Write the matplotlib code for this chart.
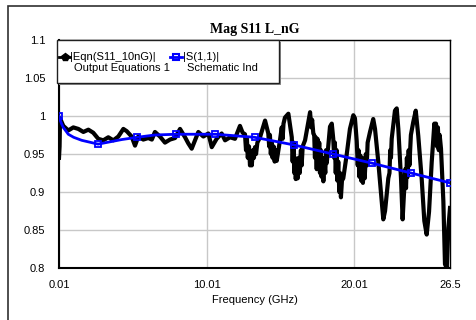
import numpy as np
import matplotlib.pyplot as plt
from matplotlib.patches import Rectangle
from matplotlib.lines import Line2D

# ====================== data ======================
freq_eqn = [0.01, 0.05, 0.08, 0.30, 0.64, 0.98, 1.32, 1.66, 2.00, 2.33,
            2.67, 3.01, 3.35, 3.69, 4.03, 4.37, 4.60, 4.93, 5.16, 5.38,
            5.72, 6.06, 6.30, 6.51, 6.85, 7.19, 7.53, 7.87, 8.21, 8.55,
            8.77, 9.00, 9.45, 9.79, 10.13, 10.36, 10.69, 11.03, 11.26, 11.60,
            11.93, 12.27, 12.45, 12.61, 12.68, 12.74, 12.80, 12.88, 12.95, 13.01,
            13.07, 13.15, 13.22, 13.29, 13.36, 13.45, 13.63, 13.97, 14.19, 14.25,
            14.30, 14.36, 14.42, 14.48, 14.55, 14.62, 14.70, 14.76, 14.98, 15.10,
            15.16, 15.22, 15.32, 15.55, 15.78, 15.84, 15.90, 15.95, 16.00, 16.05,
            16.12, 16.18, 16.25, 16.32, 16.40, 16.45, 16.52, 16.68, 17.02, 17.10,
            17.16, 17.24, 17.30, 17.35, 17.40, 17.47, 17.52, 17.58, 17.64, 17.69,
            17.75, 17.80, 17.86, 17.92, 17.98, 18.05, 18.10, 18.15, 18.37, 18.49,
            18.59, 18.65, 18.70, 18.76, 18.82, 18.87, 18.93, 19.00, 19.05, 19.11,
            19.18, 19.27, 19.50, 19.72, 19.95, 20.06, 20.18, 20.25, 20.30, 20.36,
            20.42, 20.48, 20.54, 20.60, 20.66, 20.72, 20.80, 20.86, 20.92, 21.08,
            21.30, 21.42, 21.64, 21.87, 21.98, 22.10, 22.32, 22.40, 22.45, 22.50,
            22.55, 22.77, 22.89, 23.00, 23.18, 23.29, 23.40, 23.47, 23.52, 23.58,
            23.63, 23.70, 23.75, 23.85, 24.01, 24.18, 24.35, 24.58, 24.76, 24.92,
            25.08, 25.26, 25.44, 25.50, 25.55, 25.62, 25.68, 25.74, 25.80, 25.89,
            26.05, 26.16, 26.28, 26.39, 26.50]
mag_eqn = [0.945, 0.960, 0.997, 0.987, 0.981, 0.985, 0.983, 0.979, 0.982, 0.978,
           0.970, 0.968, 0.972, 0.968, 0.973, 0.983, 0.980, 0.973, 0.961, 0.973,
           0.969, 0.971, 0.969, 0.979, 0.973, 0.965, 0.969, 0.971, 0.983, 0.972,
           0.964, 0.957, 0.979, 0.973, 0.977, 0.959, 0.970, 0.977, 0.968, 0.972,
           0.970, 0.987, 0.978, 0.976, 0.955, 0.970, 0.945, 0.960, 0.935, 0.950,
           0.935, 0.955, 0.945, 0.959, 0.950, 0.965, 0.972, 0.994, 0.977, 0.960,
           0.975, 0.950, 0.965, 0.945, 0.960, 0.940, 0.955, 0.941, 0.968, 0.985,
           0.970, 0.990, 0.998, 1.003, 0.972, 0.940, 0.965, 0.925, 0.945, 0.917,
           0.940, 0.918, 0.945, 0.925, 0.955, 0.935, 0.960, 0.968, 1.005, 0.985,
           0.995, 0.977, 0.975, 0.945, 0.972, 0.930, 0.970, 0.935, 0.965, 0.925,
           0.955, 0.920, 0.945, 0.914, 0.940, 0.925, 0.955, 0.938, 0.986, 0.990,
           0.970, 0.945, 0.965, 0.925, 0.955, 0.915, 0.940, 0.900, 0.925, 0.893,
           0.915, 0.918, 0.949, 0.983, 1.001, 0.997, 0.967, 0.935, 0.955, 0.920,
           0.948, 0.915, 0.945, 0.912, 0.940, 0.918, 0.950, 0.935, 0.965, 0.979,
           0.996, 0.983, 0.940, 0.888, 0.864, 0.875, 0.918, 0.925, 0.955, 0.945,
           0.970, 1.007, 1.010, 0.983, 0.918, 0.864, 0.905, 0.930, 0.905, 0.945,
           0.920, 0.955, 0.935, 0.975, 0.992, 1.007, 0.974, 0.918, 0.862, 0.844,
           0.874, 0.939, 0.990, 0.965, 0.990, 0.960, 0.985, 0.955, 0.975, 0.957,
           0.888, 0.805, 0.800, 0.853, 0.879]

# |S(1,1)| (schematic inductor model)
freq_sch = [0.01, 0.10, 0.20, 0.30, 0.64, 1.00, 1.55, 2.659, 4.26, 5.308,
            6.50, 7.957, 10.606, 13.255, 15.904, 18.553, 21.202, 23.851, 26.50]
mag_sch = [1.000, 0.994, 0.989, 0.985, 0.976, 0.972, 0.968, 0.963, 0.969, 0.972,
           0.975, 0.976, 0.976, 0.972, 0.962, 0.950, 0.938, 0.925, 0.912]
sch_markers = [0, 7, 9, 11, 12, 13, 14, 15, 16, 17, 18]

x_ticks = [0.01, 10.01, 20.01, 26.5]
x_tick_labels = ["0.01", "10.01", "20.01", "26.5"]
y_ticks = [0.8, 0.85, 0.9, 0.95, 1.0, 1.05, 1.1]
y_tick_labels = ["0.8", "0.85", "0.9", "0.95", "1", "1.05", "1.1"]

W, H = 476, 320


def fx(px):
    return px / W


def fy(py):
    return 1 - py / H


plt.rcParams["font.family"] = ["Liberation Sans", "DejaVu Sans"]

fig = plt.figure(figsize=(W / 100, H / 100), dpi=100)

# outer frame (runs off the right/bottom edge)
fig.patches.append(Rectangle((fx(8), -0.2), 1.2, fy(6) + 0.2, transform=fig.transFigure,
                             fill=False, edgecolor="#303030", lw=1.2))

ax = fig.add_axes([fx(59), fy(268), fx(450) - fx(59), fy(40) - fy(268)])

ax.plot(freq_eqn, mag_eqn, color="black", lw=3.0, zorder=3)
ax.plot(freq_sch, mag_sch, color="#0000ff", lw=2.0, zorder=4,
        marker="s", markevery=sch_markers, markersize=4.8, markerfacecolor="none",
        markeredgecolor="#0000ff", markeredgewidth=1.3)

ax.set_xlim(0.01, 26.5)
ax.set_ylim(0.8, 1.1)
ax.set_xticks(x_ticks)
ax.set_xticklabels(x_tick_labels)
ax.set_yticks(y_ticks)
ax.set_yticklabels(y_tick_labels)
ax.tick_params(length=0, labelsize=8)
ax.tick_params(axis="x", pad=9)
ax.tick_params(axis="y", pad=10)
ax.grid(True, color="#c8c8c8", lw=1.0)
ax.set_axisbelow(True)
for sp in ax.spines.values():
    sp.set_color("black")
    sp.set_linewidth(1.0)
ax.spines["left"].set_linewidth(1.5)
ax.spines["bottom"].set_linewidth(1.5)

ax.set_xlabel("Frequency (GHz)", fontsize=8, labelpad=3)
fig.text(fx(254.5), fy(29), "Mag S11 L_nG", ha="center", va="center",
         fontsize=10, fontweight="bold", family="Liberation Serif")

# legend box (drawn by hand, with drop shadow)
lx0, ly0, lx1, ly1 = 57, 40, 279, 83
fig.patches.append(Rectangle((fx(lx0 + 2), fy(ly1 + 2)), fx(lx1) - fx(lx0), fy(ly0) - fy(ly1),
                             transform=fig.transFigure, facecolor="#8c8c8c",
                             edgecolor="none", zorder=5))
fig.patches.append(Rectangle((fx(lx0), fy(ly1)), fx(lx1) - fx(lx0), fy(ly0) - fy(ly1),
                             transform=fig.transFigure, facecolor="white",
                             edgecolor="#202020", lw=1.0, zorder=6))
fig.lines.append(Line2D([fx(59), fx(70)], [fy(57), fy(57)], transform=fig.transFigure,
                        color="black", lw=2.0, zorder=7))
fig.lines.append(Line2D([fx(64.5)], [fy(56.5)], transform=fig.transFigure,
                        color="black", marker="p", markersize=6, lw=0, zorder=7))
fig.lines.append(Line2D([fx(170), fx(182)], [fy(57), fy(57)], transform=fig.transFigure,
                        color="#0000ff", lw=2.0, zorder=7))
fig.lines.append(Line2D([fx(176)], [fy(57)], transform=fig.transFigure,
                        color="#0000ff", marker="s", markersize=5, markerfacecolor="none",
                        markeredgewidth=1.5, lw=0, zorder=7))
leg_kw = dict(fontsize=8, va="center", ha="left", zorder=8)
fig.text(fx(70), fy(56.5), "|Eqn(S11_10nG)|", **leg_kw)
fig.text(fx(74), fy(68), "Output Equations 1", **leg_kw)
fig.text(fx(183), fy(56.5), "|S(1,1)|", **leg_kw)
fig.text(fx(187), fy(68), "Schematic Ind", **leg_kw)

plt.savefig("out.png", dpi=100)
